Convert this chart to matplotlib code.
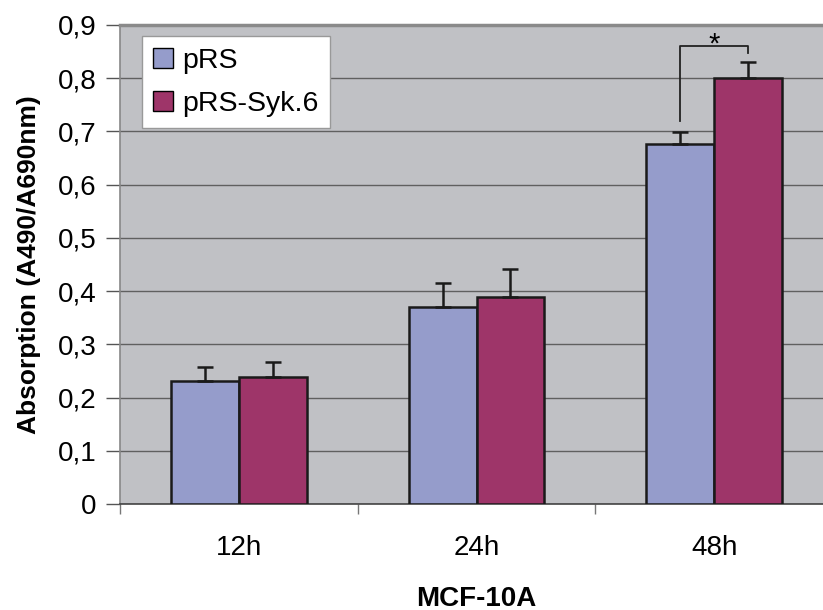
import numpy as np
import matplotlib.pyplot as plt
from matplotlib.patches import Patch

plt.rcParams['font.family'] = ['Liberation Sans', 'DejaVu Sans']

categories = ['12h', '24h', '48h']
series_names = ['pRS', 'pRS-Syk.6']
prs = [0.231, 0.370, 0.676]
prs_err = [0.026, 0.045, 0.023]
syk = [0.239, 0.389, 0.801]
syk_err = [0.028, 0.052, 0.030]
yticks = [0, 0.1, 0.2, 0.3, 0.4, 0.5, 0.6, 0.7, 0.8, 0.9]
ytick_labels = ['0', '0,1', '0,2', '0,3', '0,4', '0,5', '0,6', '0,7', '0,8', '0,9']

col_blue = '#959ccb'
col_red = '#9e3569'

fig = plt.figure(figsize=(8.23, 6.10), dpi=100)
ax = fig.add_axes([120/823, 1-504/610, 713/823, 479/610])
ax.set_facecolor('#c0c1c5')

x = np.arange(len(categories))
w = 0.286
ekw = dict(elinewidth=1.8, capthick=1.8, ecolor='#1a1a1a')
ax.bar(x - w/2, prs, w, color=col_blue, edgecolor='#1a1a1a', linewidth=1.8,
       yerr=[np.zeros(3), prs_err], capsize=6, error_kw=ekw, zorder=3)
ax.bar(x + w/2, syk, w, color=col_red, edgecolor='#1a1a1a', linewidth=1.8,
       yerr=[np.zeros(3), syk_err], capsize=6, error_kw=ekw, zorder=3)

ax.set_xlim(-0.5, 2.5)
ax.set_ylim(0, 0.9)
ax.set_yticks(yticks)
ax.set_yticklabels(ytick_labels, fontsize=20)
ax.yaxis.grid(True, color='#606060', linewidth=1.0, zorder=0)
ax.set_axisbelow(True)

ax.set_xticks([-0.5, 0.5, 1.5, 2.5])
ax.set_xticklabels([])
ax.set_xticks(x, minor=True)
ax.set_xticklabels(categories, minor=True, fontsize=20)
ax.tick_params(axis='x', which='minor', length=0, pad=22)
ax.tick_params(axis='x', which='major', length=7, color='#777777', width=1)
ax.tick_params(axis='y', length=10, color='#555555', width=1, pad=7)

ax.spines['right'].set_visible(False)
ax.spines['top'].set_color('#8a8a8a')
ax.spines['top'].set_linewidth(2.5)
ax.spines['left'].set_color('#888888')
ax.spines['left'].set_linewidth(1.2)
ax.spines['bottom'].set_color('#444444')
ax.spines['bottom'].set_linewidth(1.2)

ax.set_ylabel('Absorption (A490/A690nm)', fontsize=19, fontweight='bold', labelpad=12)
ax.set_xlabel('MCF-10A', fontsize=20, fontweight='bold', labelpad=18)

# significance bracket at 48h
xl = x[2] - w/2
xr = x[2] + w/2
ax.plot([xl, xl, xr, xr], [0.72, 0.86, 0.86, 0.848], color='#222222', lw=1.3, zorder=4)
ax.text(x[2], 0.849, '*', ha='center', va='baseline', fontsize=21)

handles = [Patch(facecolor=col_blue, edgecolor='black', label=series_names[0]),
           Patch(facecolor=col_red, edgecolor='black', label=series_names[1])]
leg = ax.legend(handles=handles, loc='upper left', bbox_to_anchor=(0.031, 0.976),
                fontsize=20.5, frameon=True, fancybox=False, handlelength=0.7,
                handleheight=0.7, handletextpad=0.3, borderpad=0.4, labelspacing=0.6,
                borderaxespad=0)
leg.get_frame().set_edgecolor('#999999')
leg.get_frame().set_facecolor('white')
leg.get_frame().set_alpha(1)

fig.savefig('out.png', dpi=100)
